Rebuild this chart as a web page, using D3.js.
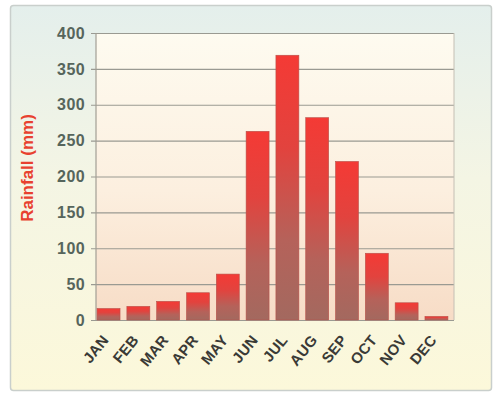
<!DOCTYPE html>
<html>
<head>
<meta charset="utf-8">
<script src="https://cdn.jsdelivr.net/npm/d3@7"></script>
<style>
  html, body { margin: 0; padding: 0; background: #ffffff; }
  svg { display: block; }
</style>
</head>
<body>
<svg id="chart" width="496" height="396"></svg>
<script>
// Monthly rainfall (mm)
const months = ["JAN","FEB","MAR","APR","MAY","JUN","JUL","AUG","SEP","OCT","NOV","DEC"];
const rainfall = [16, 19, 26, 38, 64, 263, 369, 282, 221, 93, 24, 5];
const yTicks = [0, 50, 100, 150, 200, 250, 300, 350, 400];
const yTitle = "Rainfall (mm)";

const svg = d3.select("#chart");
const defs = svg.append("defs");

// Panel background: cool grey-blue at the top fading to pale cream
const bgGrad = defs.append("linearGradient").attr("id", "panelBg")
  .attr("x1", 0).attr("y1", 0).attr("x2", 0).attr("y2", 1);
bgGrad.append("stop").attr("offset", "0%").attr("stop-color", "#e4efec");
bgGrad.append("stop").attr("offset", "45%").attr("stop-color", "#f4f5e4");
bgGrad.append("stop").attr("offset", "100%").attr("stop-color", "#fcf8da");

// Plot area: warm cream darkening to peach near the baseline
const plotGrad = defs.append("linearGradient").attr("id", "plotBg")
  .attr("x1", 0).attr("y1", 0).attr("x2", 0).attr("y2", 1);
plotGrad.append("stop").attr("offset", "0%").attr("stop-color", "#fefbf0");
plotGrad.append("stop").attr("offset", "55%").attr("stop-color", "#fcefdf");
plotGrad.append("stop").attr("offset", "100%").attr("stop-color", "#f7dcc6");

// Bars: bright red at the top, muted brown-red toward the base
const barGrad = defs.append("linearGradient").attr("id", "barFill")
  .attr("x1", 0).attr("y1", 0).attr("x2", 0).attr("y2", 1);
barGrad.append("stop").attr("offset", "0%").attr("stop-color", "#f43a35");
barGrad.append("stop").attr("offset", "35%").attr("stop-color", "#e2433e");
barGrad.append("stop").attr("offset", "70%").attr("stop-color", "#b5625a");
barGrad.append("stop").attr("offset", "100%").attr("stop-color", "#a3695f");

svg.append("rect")
  .attr("x", 10.5).attr("y", 5.5).attr("width", 481).attr("height", 385)
  .attr("rx", 3)
  .attr("fill", "url(#panelBg)")
  .attr("stroke", "#c9cfcc").attr("stroke-width", 1.5);

const margin = { left: 96, right: 42, top: 33, bottom: 76 };
const width = 496, height = 396;

const x = d3.scaleBand()
  .domain(months)
  .range([margin.left, width - margin.right])
  .paddingInner(0.23)
  .paddingOuter(0.12)
  .align(0.15);

const y = d3.scaleLinear()
  .domain([0, 400])
  .range([height - margin.bottom, margin.top]);

const x0 = margin.left, x1 = width - margin.right;

svg.append("rect")
  .attr("x", x0).attr("y", y(400))
  .attr("width", x1 - x0).attr("height", y(0) - y(400))
  .attr("fill", "url(#plotBg)");

// Horizontal gridlines, extending slightly left of the axis as ticks
const yAxis = d3.axisLeft(y)
  .tickValues(yTicks)
  .tickSize(-(x1 - x0))
  .tickSizeOuter(0)
  .tickPadding(11)
  .tickFormat(d3.format("d"));

const gy = svg.append("g")
  .attr("transform", `translate(${x0},0)`)
  .call(yAxis);
gy.select(".domain").remove();
gy.selectAll(".tick line")
  .attr("x1", -5)
  .attr("stroke", "#9a9a92")
  .attr("stroke-width", 1.1);
gy.selectAll(".tick text")
  .attr("fill", "#56655c")
  .attr("font-family", "Liberation Sans, Arial, sans-serif")
  .attr("font-weight", "bold")
  .attr("font-size", 16)
  .attr("letter-spacing", 0.4);

// Plot frame (left axis line and right border)
svg.append("line")
  .attr("x1", x0).attr("x2", x0).attr("y1", y(400)).attr("y2", y(0))
  .attr("stroke", "#a29e94").attr("stroke-width", 1.2);
svg.append("line")
  .attr("x1", x1).attr("x2", x1).attr("y1", y(400)).attr("y2", y(0))
  .attr("stroke", "#c4bfb4").attr("stroke-width", 1);

// Bars
svg.append("g")
  .selectAll("rect")
  .data(months.map((m, i) => ({ m, v: rainfall[i] })))
  .join("rect")
  .attr("x", d => x(d.m))
  .attr("y", d => y(d.v))
  .attr("width", x.bandwidth())
  .attr("height", d => y(0) - y(d.v))
  .attr("fill", "url(#barFill)")
  .attr("stroke", "#b8514a")
  .attr("stroke-width", 0.6);

// Month labels, rotated so each ends just below its bar
const xAxis = d3.axisBottom(x).tickSize(0).tickPadding(0);
const gx = svg.append("g")
  .attr("transform", `translate(0,${y(0)})`)
  .call(xAxis);
gx.select(".domain").remove();
gx.selectAll(".tick text")
  .attr("x", 0).attr("y", 0)
  .attr("fill", "#3a3a36")
  .attr("font-family", "Liberation Sans, Arial, sans-serif")
  .attr("font-weight", "bold")
  .attr("font-size", 15)
  .attr("letter-spacing", 0.3)
  .attr("text-anchor", "end")
  .attr("dy", "0.35em")
  .attr("transform", "translate(-3,17) rotate(-51)");

// Y-axis title
svg.append("text")
  .attr("transform", `translate(33,168) rotate(-90)`)
  .attr("text-anchor", "middle")
  .attr("fill", "#e8412f")
  .attr("font-family", "Liberation Sans, Arial, sans-serif")
  .attr("font-weight", "bold")
  .attr("font-size", 17)
  .text(yTitle);
</script>
</body>
</html>
